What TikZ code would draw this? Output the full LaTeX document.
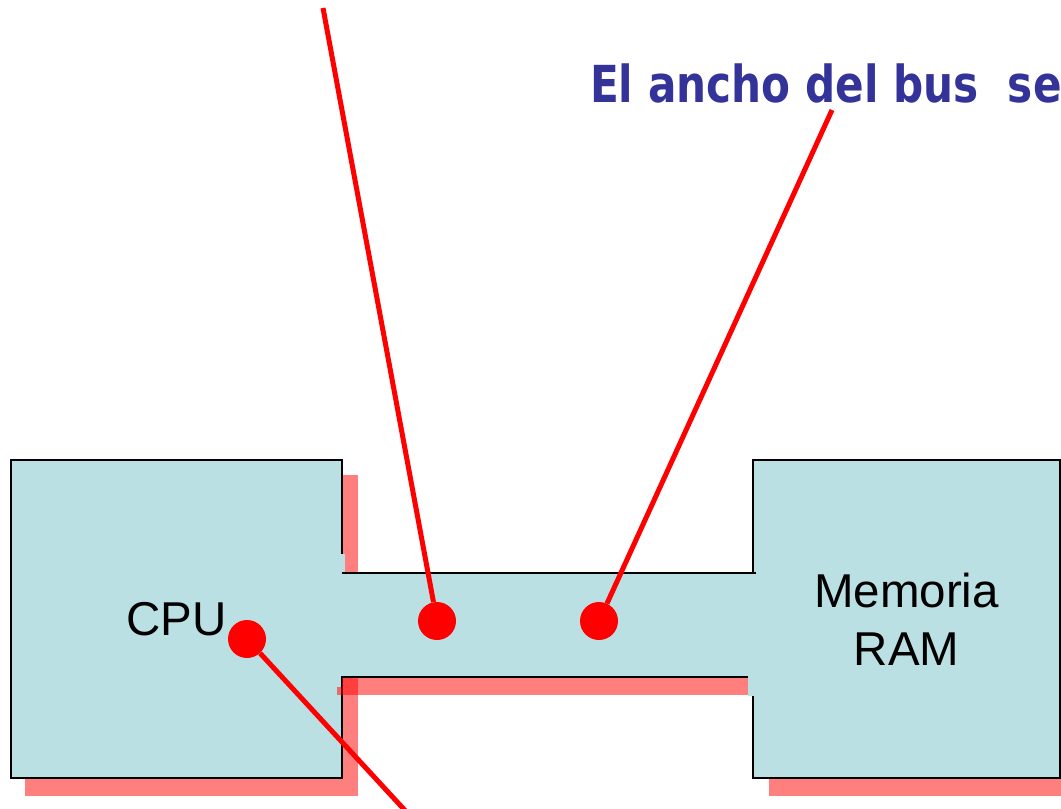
\documentclass[tikz,border=0pt]{standalone}
\usepackage{fontspec}
\setmainfont{Liberation Sans}
\newfontfamily\vfont{DejaVu Sans}
\definecolor{boxfill}{RGB}{187,224,227}
\definecolor{shadowred}{RGB}{255,0,0}
\definecolor{titleblue}{RGB}{51,51,153}
\tikzset{
  box/.style={draw=black, line width=1.2pt, fill=boxfill, inner sep=0pt,
    font=\fontsize{47.5}{58}\selectfont, align=center},
  shadowbox/.style={fill=shadowred, fill opacity=0.5},
  dot/.style={circle, fill=red, minimum size=38pt, inner sep=0pt},
  conn/.style={draw=red, line width=5pt},
  busline/.style={draw=black, line width=1.2pt},
  titletext/.style={anchor=base west, inner sep=0pt, text=titleblue, xscale=0.827,
    font=\vfont\bfseries\fontsize{51}{60}\selectfont},
}
\begin{document}
\begin{tikzpicture}[x=1pt,y=-1pt]
\useasboundingbox (0,0) rectangle (1061,809);
\clip (0,0) rectangle (1061,809);
% shadows
\path[shadowbox] (25,475) rectangle (358,796);
\path[shadowbox] (769,475) rectangle (1080,796);
% boxes
\node[box, minimum width=331pt, minimum height=318pt] (cpu) at (176.5,619) {CPU};
\node[box, minimum width=307pt, minimum height=318pt] (ram) at (906.5,619) {Memoria\\RAM};
% bus shadow
\path[shadowbox] (342,677) rectangle (748,695);
\path[shadowbox] (337,687) rectangle (342,695);
% bus
\path[fill=boxfill] (340,554) rectangle (345,676);
\path[fill=boxfill] (342,573) rectangle (750,677);
\path[fill=boxfill] (748,572) rectangle (756,696);
\draw[busline] (342,573) -- (756,573);
\draw[busline] (342,677) -- (748,677);
% title
\node[titletext] (title) at (590,102) {El ancho del bus\ \ se};
% dots and connectors
\node[dot] (d1) at (437,621) {};
\node[dot] (d2) at (599,621) {};
\node[dot] (d3) at (247,639) {};
\coordinate (t1) at (323,8);
\coordinate (t2) at (832,110);
\coordinate (t3) at (412,818);
\draw[conn] (t1) -- (d1);
\draw[conn] (t2) -- (d2);
\draw[conn] (d3) -- (t3);
\end{tikzpicture}
\end{document}
